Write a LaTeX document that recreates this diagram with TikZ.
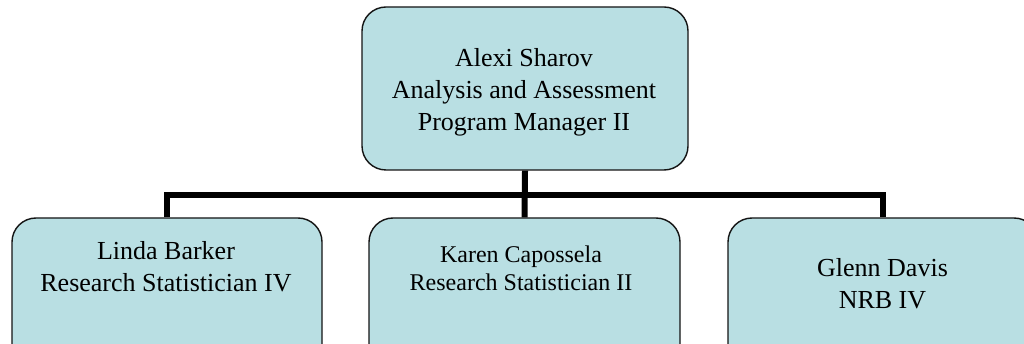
\documentclass[tikz,border=0pt]{standalone}
\usepackage{fontspec}
\setmainfont{Liberation Serif}
\definecolor{boxfill}{RGB}{185,223,227}
\definecolor{boxline}{RGB}{20,20,20}
\tikzset{
  orgbox/.style={draw=boxline, line width=1.4pt, fill=boxfill, rounded corners=24pt, inner sep=0pt},
  boxtext/.style={align=center, inner sep=0pt, text=black},
  conn/.style={line width=6pt, draw=black, miter limit=10}
}
\begin{document}
\begin{tikzpicture}[x=1pt,y=-1pt]
\useasboundingbox (0,0) rectangle (1024,344);
\clip (0,0) rectangle (1024,344);
\fill[white] (0,0) rectangle (1024,344);
% boxes
\node[orgbox, minimum width=326pt, minimum height=163pt] (top) at (525,88.5) {};
\node[orgbox, minimum width=310pt, minimum height=163pt] (left) at (167,299.5) {};
\node[orgbox, minimum width=311pt, minimum height=163pt] (mid) at (524.5,299.5) {};
\node[orgbox, minimum width=310pt, minimum height=163pt] (right) at (883,299.5) {};
% connectors
\coordinate (bar) at (525,195);
\draw[conn] (top.south) -- (mid.north);
\draw[conn] (left.north -| left.north) |- (bar) -| (right.north);
% texts
\node[boxtext, font=\fontsize{26}{32}\selectfont] (toptext) at (524,92.6)
  {Alexi Sharov\\Analysis and Assessment\\Program Manager II};
\node[boxtext, font=\fontsize{26}{32}\selectfont] (lefttext) at (166,267.1)
  {Linda Barker\\Research Statistician IV};
\node[boxtext, font=\fontsize{24}{28}\selectfont] (midtext) at (521,267.8)
  {Karen Capossela\\Research Statistician II};
\node[boxtext, font=\fontsize{26}{32}\selectfont] (righttext) at (882.5,283.6)
  {Glenn Davis\\NRB IV};
\end{tikzpicture}
\end{document}
